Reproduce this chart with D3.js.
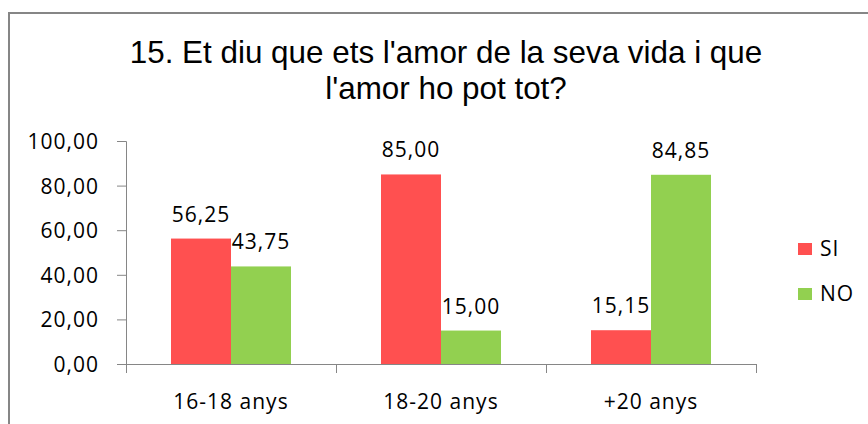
<!DOCTYPE html>
<html lang="en">
  <head>
    <meta charset="UTF-8" />
    <title>15. Et diu que ets l'amor de la seva vida</title>
    <script src="https://d3js.org/d3.v7.min.js"></script>
    <style>
      body { margin: 0; background: #fff; }
      text { fill: #000; }
      .tick-label, .bar-label, .legend-label {
        font-family: "Open Sans", Lato, sans-serif;
        font-size: 21px;
        letter-spacing: 1px;
      }
      .title { font-family: "Liberation Sans", Arial, sans-serif; font-size: 31.4px; }
    </style>
  </head>
  <body>
    <div id="chart"></div>
    <script>
      const categories = ['16-18 anys', '18-20 anys', '+20 anys'];
      const seriesNames = ['SI', 'NO'];
      const siValues = [56.25, 85.0, 15.15];
      const noValues = [43.75, 15.0, 84.85];
      const yTicks = [0, 20, 40, 60, 80, 100];
      const colors = ['#ff5050', '#92d050'];

      const W = 868, H = 424;
      const plot = { left: 126, right: 756, top: 141, bottom: 364 };

      const svg = d3.select('#chart').append('svg')
        .attr('width', W).attr('height', H);

      // outer frame
      svg.append('rect')
        .attr('x', 9).attr('y', 13)
        .attr('width', 900).attr('height', 500)
        .attr('fill', 'none').attr('stroke', '#868686').attr('stroke-width', 2);

      const title = svg.append('text').attr('class', 'title')
        .attr('text-anchor', 'middle');
      title.append('tspan').attr('x', 446).attr('y', 63)
        .text("15. Et diu que ets l'amor de la seva vida i que");
      title.append('tspan').attr('x', 446).attr('y', 99)
        .text("l'amor ho pot tot?");

      const x0 = d3.scaleBand().domain(categories)
        .range([plot.left, plot.right]).paddingInner(0).paddingOuter(0);
      const x1 = d3.scaleBand().domain(seriesNames)
        .range([0, x0.bandwidth()]).paddingInner(0).paddingOuter(0.75);
      const y = d3.scaleLinear().domain([0, 100]).range([plot.bottom, plot.top]);

      const fmt = (v) => v.toFixed(2).replace('.', ',');

      // y axis
      const yAxis = svg.append('g')
        .attr('transform', `translate(${plot.left},0)`)
        .call(d3.axisLeft(y).tickValues(yTicks).tickSize(9).tickFormat(fmt));
      yAxis.select('.domain').attr('stroke', '#868686');
      yAxis.selectAll('.tick line').attr('stroke', '#868686');
      yAxis.selectAll('.tick text').attr('class', 'tick-label')
        .attr('x', -27).attr('dy', '0.36em').attr('fill', '#000');

      const data = categories.map((c, i) => ({ cat: c, vals: [siValues[i], noValues[i]] }));

      const groups = svg.selectAll('.grp').data(data).enter().append('g')
        .attr('transform', (d) => `translate(${x0(d.cat)},0)`);

      groups.selectAll('rect').data((d) => d.vals.map((v, j) => ({ s: seriesNames[j], v, j })))
        .enter().append('rect')
        .attr('x', (d) => x1(d.s))
        .attr('y', (d) => y(d.v))
        .attr('width', x1.bandwidth())
        .attr('height', (d) => y(0) - y(d.v))
        .attr('fill', (d) => colors[d.j]);

      groups.selectAll('.bar-label').data((d) => d.vals.map((v, j) => ({ s: seriesNames[j], v })))
        .enter().append('text').attr('class', 'bar-label')
        .attr('text-anchor', 'middle')
        .attr('x', (d) => x1(d.s) + x1.bandwidth() / 2)
        .attr('y', (d) => y(d.v) - 17)
        .text((d) => fmt(d.v));

      // x axis
      const xScaleLin = d3.scaleLinear().domain([0, categories.length]).range([plot.left, plot.right]);
      const xAxis = svg.append('g')
        .attr('transform', `translate(0,${plot.bottom})`)
        .call(d3.axisBottom(xScaleLin).tickValues(d3.range(categories.length + 1)).tickSize(9).tickFormat(''));
      xAxis.select('.domain').attr('stroke', '#868686');
      xAxis.selectAll('.tick line').attr('stroke', '#868686');

      svg.selectAll('.cat-label').data(categories).enter().append('text')
        .attr('class', 'tick-label').attr('text-anchor', 'middle')
        .attr('x', (d) => x0(d) + x0.bandwidth() / 2)
        .attr('y', 409)
        .text((d) => d);

      // legend
      const legend = svg.selectAll('.leg').data(seriesNames).enter().append('g')
        .attr('transform', (d, i) => `translate(798,${243 + i * 45})`);
      legend.append('rect').attr('width', 14).attr('height', 12)
        .attr('fill', (d, i) => colors[i]);
      legend.append('text').attr('class', 'legend-label')
        .attr('x', 22).attr('y', 13).text((d) => d);
    </script>
  </body>
</html>
